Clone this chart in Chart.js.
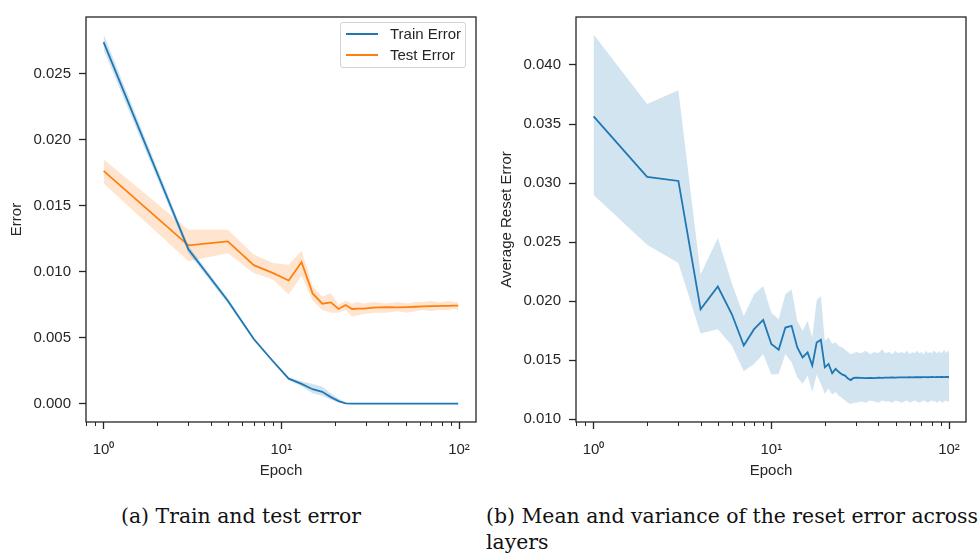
<!DOCTYPE html>
<html>
<head>
<meta charset="utf-8">
<script src="https://cdn.jsdelivr.net/npm/chart.js@4.4.1/dist/chart.umd.min.js"></script>
<style>
  body { margin: 0; background: #fff; width: 979px; height: 557px; overflow: hidden; position: relative; }
  canvas { position: absolute; top: 0; }
  #cA { left: 0; }
  #cB { left: 490px; }
  .legend { position: absolute; left: 340px; top: 22px; width: 126px; height: 46px;
            border: 1px solid #d4d4d4; border-radius: 3px; background: rgba(255,255,255,0.85); box-sizing: border-box; }
  .leg-row { position: absolute; left: 0; height: 20px; font: 15px 'Liberation Sans', Arial, sans-serif; color: #262626; }
  .leg-line { position: absolute; left: 5px; top: 9px; width: 32px; height: 2px; }
  .leg-text { position: absolute; left: 49px; top: 1px; white-space: nowrap; }
  .caption { position: absolute; font: 20.4px 'DejaVu Serif', serif; color: #111; white-space: nowrap; line-height: 26px; }
</style>
</head>
<body>
<canvas id="cA" width="490" height="490"></canvas>
<canvas id="cB" width="489" height="490"></canvas>

<div class="legend">
  <div class="leg-row" style="top:1px"><span class="leg-line" style="background:#1f77b4"></span><span class="leg-text">Train Error</span></div>
  <div class="leg-row" style="top:22px"><span class="leg-line" style="background:#ff7f0e"></span><span class="leg-text">Test Error</span></div>
</div>

<div class="caption" style="left:121px; top:503px;">(a) Train and test error</div>
<div class="caption" style="left:486px; top:503px;">(b) Mean and variance of the reset error across<br>layers</div>

<script>
// ---- left panel: train / test error (evaluated every 2 epochs, flat part thinned)
const epochsA = [1,3,5,7,9,11,13,15,17,19,21,23,25,27,29,33,39,45,51,57,63,69,75,81,87,93,99];
const trainMean = [0.0274,0.0117,0.0078,0.0049,0.0032,0.0019,0.0015,0.0011,0.0009,0.0005,0.0002,0.00002,
                   0,0,0,0,0,0,0,0,0,0,0,0,0,0,0];
const trainHigh = [0.0280,0.0120,0.0080,0.0050,0.0033,0.0020,0.0017,0.0015,0.0013,0.0008,0.0004,0.0001,
                   0.00003,0.00003,0.00003,0.00003,0.00003,0.00003,0.00003,0.00003,0.00003,0.00003,0.00003,0.00003,0.00003,0.00003,0.00003];
const trainLow  = [0.0268,0.0114,0.0076,0.0048,0.0031,0.0018,0.0013,0.0008,0.0006,0.0003,0.0001,0,
                   0,0,0,0,0,0,0,0,0,0,0,0,0,0,0];
const testMean  = [0.01765,0.0120,0.0123,0.0105,0.0099,0.00934,0.01072,0.00836,0.00758,0.00768,0.00718,0.00748,0.00718,
                   0.0072,0.0072,0.00728,0.00732,0.0073,0.00732,0.00735,0.00738,0.0074,0.0074,0.00742,0.00742,0.00743,0.00743];
const testHigh  = [0.01852,0.01318,0.01318,0.0113,0.01066,0.01054,0.0116,0.0089,0.0081,0.0084,0.0075,0.0078,0.0076,
                   0.0077,0.0076,0.0077,0.0076,0.0077,0.0076,0.0077,0.0077,0.0078,0.0077,0.0077,0.0078,0.0077,0.0077];
const testLow   = [0.01669,0.01079,0.0114,0.0099,0.0094,0.00828,0.0097,0.0078,0.0071,0.0069,0.0069,0.0071,0.0066,
                   0.0067,0.0068,0.0069,0.0069,0.0070,0.0069,0.0070,0.0071,0.0070,0.0071,0.0071,0.0071,0.0072,0.0071];

// ---- right panel: reset error across layers
const epochsB = [1,2,3,4,5,6,7,8,9,10,11,12,13,14,15,16,17,18,19,20,21,22,23,24,25,26,27,28,29,30,
                 32,34,36,38,40,42,44,46,48,50,52,54,56,58,60,62,64,66,68,70,72,74,76,78,80,82,84,86,88,90,92,94,96,98,100];
const resetMean = [0.03565,0.03052,0.03018,0.01931,0.02124,0.01889,0.01625,0.01763,0.01841,0.01637,
                   0.01589,0.01777,0.01791,0.01608,0.01524,0.01566,0.01454,0.0165,0.01673,0.0144,
                   0.01468,0.0139,0.01427,0.0140,0.0138,0.0137,0.01345,0.01332,0.0135,0.01352,
                   0.01350,0.01348,0.01350,0.01349,0.01352,0.01351,0.01353,0.01352,0.01354,0.01353,
                   0.01354,0.01355,0.01354,0.01355,0.01356,0.01355,0.01356,0.01356,0.01357,0.01356,
                   0.01357,0.01357,0.01356,0.01357,0.01358,0.01357,0.01357,0.01358,0.01357,0.01358,
                   0.01358,0.01357,0.01358,0.01358,0.01358];
const resetHigh = [0.04257,0.03669,0.03786,0.02226,0.02534,0.0215,0.01875,0.02058,0.02128,0.01903,
                   0.01847,0.02058,0.02098,0.01833,0.01749,0.01833,0.01693,0.02007,0.02043,0.01665,
                   0.01693,0.0164,0.0165,0.0162,0.0161,0.0159,0.0157,0.0155,0.0156,0.0157,
                   0.0156,0.0158,0.0155,0.0157,0.0156,0.0159,0.0156,0.0157,0.0155,0.0158,
                   0.0156,0.0157,0.0156,0.0158,0.0155,0.0157,0.0156,0.0158,0.0156,0.0157,
                   0.0155,0.0158,0.0156,0.0157,0.0156,0.0158,0.0157,0.0156,0.0158,0.0156,
                   0.0157,0.0159,0.0156,0.0158,0.0157];
const resetLow  = [0.02898,0.02478,0.02323,0.01726,0.01762,0.01622,0.01407,0.01469,0.01553,0.01379,
                   0.01384,0.01553,0.01482,0.01356,0.013,0.0137,0.0123,0.0138,0.013,0.01216,
                   0.01258,0.0121,0.0123,0.0120,0.0118,0.0116,0.0114,0.0113,0.0114,0.0114,
                   0.0115,0.0114,0.0116,0.0115,0.0114,0.0116,0.0115,0.0115,0.0114,0.0116,
                   0.0115,0.0114,0.0115,0.0116,0.0114,0.0115,0.0116,0.0115,0.0114,0.0115,
                   0.0116,0.0115,0.0114,0.0115,0.0116,0.0115,0.0115,0.0114,0.0116,0.0115,
                   0.0114,0.0115,0.0116,0.0115,0.0115];

// ---- axes
const xMajorTicks = [1, 10, 100];
const xTickLabels = ['10⁰', '10¹', '10²'];
const xMinorTicks = [0.8,0.9,2,3,4,5,6,7,8,9,20,30,40,50,60,70,80,90];
const yTicksA = [0, 0.005, 0.010, 0.015, 0.020, 0.025];
const yTicksB = [0.010, 0.015, 0.020, 0.025, 0.030, 0.035, 0.040];

const BLUE = '#1f77b4';
const ORANGE = '#ff7f0e';
const BLUE_BAND = 'rgba(31,119,180,0.2)';
const ORANGE_BAND = 'rgba(255,127,14,0.2)';
const INK = '#262626';

Chart.defaults.font.family = "'Liberation Sans', Arial, sans-serif";
Chart.defaults.font.size = 15;
Chart.defaults.color = INK;

const pts = (xs, ys) => xs.map((x, i) => ({ x: x, y: ys[i] }));

function band(xs, hi, lo, color) {
    return [
        { data: pts(xs, hi), borderWidth: 0, pointRadius: 0, backgroundColor: color, fill: '+1', order: 1 },
        { data: pts(xs, lo), borderWidth: 0, pointRadius: 0, backgroundColor: color, fill: false, order: 1 }
    ];
}

function mean(xs, ys, color) {
    return { data: pts(xs, ys), borderColor: color, borderWidth: 1.8, pointRadius: 0, fill: false, order: 0 };
}

// frame on all four sides + short minor ticks under the log axis
const framePlugin = {
    id: 'frame',
    afterDraw(chart) {
        const { ctx, chartArea: a } = chart;
        const xs = chart.scales.x;
        ctx.save();
        ctx.strokeStyle = INK;
        ctx.lineWidth = 1.3;
        ctx.strokeRect(a.left, a.top, a.right - a.left, a.bottom - a.top);
        ctx.lineWidth = 1;
        ctx.beginPath();
        xMinorTicks.forEach(v => {
            if (v < xs.min || v > xs.max) return;
            const px = Math.round(xs.getPixelForValue(v)) + 0.5;
            ctx.moveTo(px, a.bottom);
            ctx.lineTo(px, a.bottom + 4);
        });
        ctx.stroke();
        ctx.restore();
    }
};

function makeOptions(yMin, yMax, yTicks, yTitle, padRight) {
    return {
        responsive: false,
        animation: false,
        layout: { padding: { left: 0, top: 14, right: padRight, bottom: 0 } },
        plugins: { legend: { display: false }, tooltip: { enabled: false } },
        elements: { line: { tension: 0 } },
        scales: {
            x: {
                type: 'logarithmic',
                min: 0.796,
                max: 124.6,
                afterBuildTicks: s => { s.ticks = xMajorTicks.map(v => ({ value: v })); },
                afterFit: s => { s.height = 68; },
                ticks: {
                    autoSkip: false,
                    maxRotation: 0,
                    padding: 12,
                    callback: v => xTickLabels[xMajorTicks.indexOf(v)]
                },
                grid: { drawOnChartArea: false, tickLength: 7, tickColor: INK, tickWidth: 1.3 },
                border: { display: false },
                title: { display: true, text: 'Epoch', padding: { top: 0, bottom: 10 } }
            },
            y: {
                min: yMin,
                max: yMax,
                afterBuildTicks: s => { s.ticks = yTicks.map(v => ({ value: v })); },
                afterFit: s => { s.width = 86; },
                ticks: { padding: 8, callback: v => v.toFixed(3) },
                grid: { drawOnChartArea: false, tickLength: 7, tickColor: INK, tickWidth: 1.3 },
                border: { display: false },
                title: { display: true, text: yTitle, padding: { top: 8, bottom: 0 } }
            }
        }
    };
}

new Chart(document.getElementById('cA'), {
    type: 'line',
    data: {
        datasets: [
            ...band(epochsA, trainHigh, trainLow, BLUE_BAND),
            ...band(epochsA, testHigh, testLow, ORANGE_BAND),
            mean(epochsA, trainMean, BLUE),
            mean(epochsA, testMean, ORANGE)
        ]
    },
    options: makeOptions(-0.001386, 0.02931, yTicksA, 'Error', 14),
    plugins: [framePlugin]
});

new Chart(document.getElementById('cB'), {
    type: 'line',
    data: {
        datasets: [
            ...band(epochsB, resetHigh, resetLow, BLUE_BAND),
            mean(epochsB, resetMean, BLUE)
        ]
    },
    options: makeOptions(0.00977, 0.04406, yTicksB, 'Average Reset Error', 13),
    plugins: [framePlugin]
});
</script>
</body>
</html>
